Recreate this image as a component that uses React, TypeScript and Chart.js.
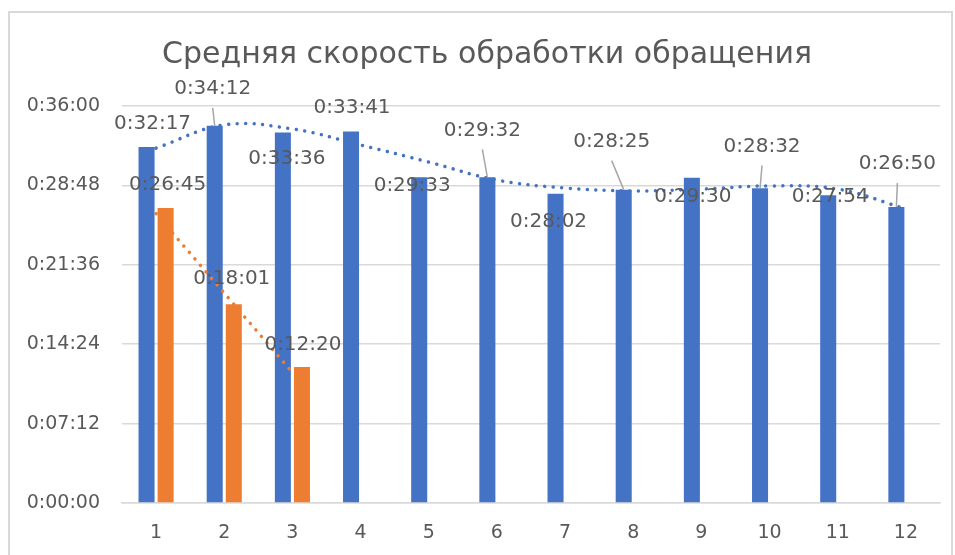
import React, { useEffect, useRef } from "react";
import { Chart, registerables } from "chart.js";

Chart.register(...registerables);

const TITLE = "Средняя скорость обработки обращения";
const categories = ["1", "2", "3", "4", "5", "6", "7", "8", "9", "10", "11", "12"];
const seriesBlue = ["0:32:17", "0:34:12", "0:33:36", "0:33:41", "0:29:33", "0:29:32", "0:28:02", "0:28:25", "0:29:30", "0:28:32", "0:27:54", "0:26:50"];
const seriesOrange = ["0:26:45", "0:18:01", "0:12:20"];
// trendlines (value at each category centre)
const trendBlue = ["0:32:11", "0:34:17", "0:33:55", "0:32:28", "0:30:55", "0:29:17", "0:28:34", "0:28:18", "0:28:28", "0:28:45", "0:28:28", "0:26:40"];
const trendOrange = ["0:26:14", "0:19:02", "0:11:50"];
const yTickStep = "0:07:12";
const yMax = "0:36:00";

// label placement (pixel offsets from bar top) and leader-line flags
const blueLabelOffsets = [[6, -23], [-2, -37], [4, 26], [1, -24], [-7, 9], [-5, -47], [-7, 28], [-12, -48], [1, 19], [2, -42], [2, 1], [1, -43]];
const blueLeaders = [false, true, false, false, false, true, false, true, false, true, false, true];
const orangeLabelOffsets = [[2, -23], [-2, -26], [1, -22]];

const toSec = (s: string) => {
  const [h, m, sec] = s.split(":").map(Number);
  return h * 3600 + m * 60 + sec;
};
const fmt = (v: number) => {
  const t = Math.round(v);
  const h = Math.floor(t / 3600);
  const m = Math.floor((t % 3600) / 60);
  const s = t % 60;
  return `${h}:${String(m).padStart(2, "0")}:${String(s).padStart(2, "0")}`;
};

const TEXT = "#595959";
const FONT = "'DejaVu Sans', sans-serif";

const framePlugin = {
  id: "frame",
  beforeDraw(chart: any) {
    const ctx = chart.ctx;
    ctx.save();
    ctx.fillStyle = "#ffffff";
    ctx.fillRect(0, 0, chart.width, chart.height);
    ctx.strokeStyle = "#d9d9d9";
    ctx.lineWidth = 2;
    ctx.strokeRect(9, 12, chart.width - 12, chart.height + 10);
    ctx.fillStyle = TEXT;
    ctx.font = `30px ${FONT}`;
    ctx.textAlign = "center";
    ctx.textBaseline = "middle";
    ctx.fillText(TITLE, 487, 55);
    ctx.restore();
  },
};

const labelPlugin = {
  id: "barLabels",
  afterDatasetsDraw(chart: any) {
    const ctx = chart.ctx;
    ctx.save();
    ctx.font = `20px ${FONT}`;
    ctx.textAlign = "center";
    ctx.textBaseline = "middle";
    const draw = (dsIndex: number, values: string[], offsets: number[][], leaders: boolean[] | null) => {
      const meta = chart.getDatasetMeta(dsIndex);
      values.forEach((v, i) => {
        const el = meta.data[i];
        if (!el) return;
        const lx = el.x + offsets[i][0];
        const ly = el.y + offsets[i][1];
        if (leaders && leaders[i]) {
          ctx.strokeStyle = "#a6a6a6";
          ctx.lineWidth = 1.5;
          ctx.beginPath();
          ctx.moveTo(lx, ly + 19);
          ctx.lineTo(el.x, el.y);
          ctx.stroke();
        }
        ctx.fillStyle = TEXT;
        ctx.fillText(v, lx, ly);
      });
    };
    draw(0, seriesBlue, blueLabelOffsets, blueLeaders);
    draw(1, seriesOrange, orangeLabelOffsets, null);
    ctx.restore();
  },
};

export default function App() {
  const ref = useRef<HTMLCanvasElement | null>(null);
  useEffect(() => {
    if (!ref.current) return;
    const chart = new Chart(ref.current, {
      type: "bar",
      data: {
        labels: categories,
        datasets: [
          {
            type: "bar",
            label: "Ряд1",
            data: seriesBlue.map(toSec),
            backgroundColor: "#4472C4",
            categoryPercentage: 0.56,
            barPercentage: 0.84,
            order: 2,
          },
          {
            type: "bar",
            label: "Ряд2",
            data: seriesOrange.map(toSec),
            backgroundColor: "#ED7D31",
            categoryPercentage: 0.56,
            barPercentage: 0.84,
            order: 2,
          },
          {
            type: "line",
            label: "Тренд1",
            data: trendBlue.map(toSec),
            borderColor: "#4472C4",
            borderWidth: 3.5,
            borderDash: [0.01, 8.5],
            borderCapStyle: "round",
            pointRadius: 0,
            tension: 0.4,
            fill: false,
            order: 1,
          },
          {
            type: "line",
            label: "Тренд2",
            data: trendOrange.map(toSec),
            borderColor: "#ED7D31",
            borderWidth: 3.5,
            borderDash: [0.01, 8.5],
            borderCapStyle: "round",
            pointRadius: 0,
            fill: false,
            order: 1,
          },
        ],
      } as any,
      options: {
        responsive: false,
        animation: false,
        layout: { padding: { left: 0, top: 106, right: 15, bottom: 0 } },
        plugins: {
          legend: { display: false },
          title: { display: false },
          tooltip: { enabled: false },
        },
        scales: {
          x: {
            grid: { display: false, drawTicks: false },
            border: { display: true, color: "#d9d9d9", width: 1.5 },
            ticks: { color: TEXT, font: { family: FONT, size: 19 }, padding: 19, maxRotation: 0 },
            afterFit: (s: any) => {
              s.height = 52;
            },
          },
          y: {
            min: 0,
            max: toSec(yMax),
            grid: { color: "#d9d9d9", lineWidth: 1.5, drawTicks: false },
            border: { display: false },
            ticks: {
              stepSize: toSec(yTickStep),
              color: TEXT,
              font: { family: FONT, size: 19 },
              padding: 22,
              callback: (v: any) => fmt(Number(v)),
            },
            afterFit: (s: any) => {
              s.width = 122;
            },
          },
        },
      } as any,
      plugins: [framePlugin, labelPlugin],
    });
    return () => chart.destroy();
  }, []);
  return (
    <div style={{ position: "fixed", left: 0, top: 0, width: 955, height: 555, background: "#fff" }}>
      <canvas ref={ref} width={955} height={555} />
    </div>
  );
}
